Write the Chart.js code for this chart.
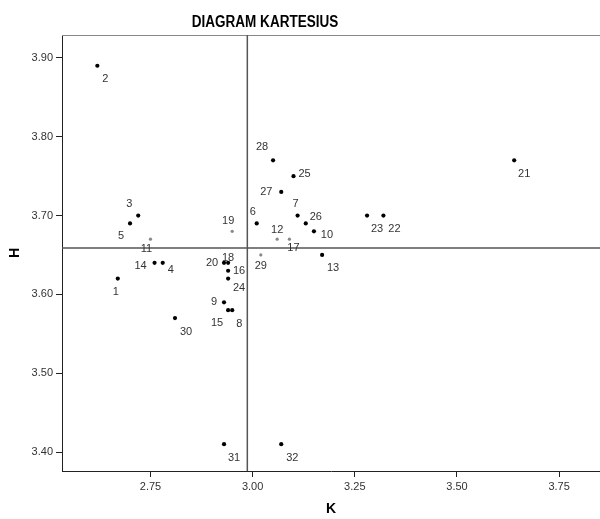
<!DOCTYPE html>
<html>
<head>
  <meta charset="UTF-8">
  <style>
    html, body { margin: 0; padding: 0; background: #fff; }
    #wrap { width: 600px; height: 519px; }
  </style>
</head>
<body>
  <div id="wrap"><canvas id="kartesius"></canvas></div>

  <script src="https://cdn.jsdelivr.net/npm/chart.js@4.4.0/dist/chart.umd.min.js"></script>
  <script>
    // respondent numbers and their K / H scores
    const ids     = [1, 2, 3, 4, 5, 6, 7, 8, 9, 10, 11, 12, 13, 14, 15, 16, 17, 18, 19, 20, 21, 22, 23, 24, 25, 26, 27, 28, 29, 30, 31, 32]
    const kValues = [2.67, 2.62, 2.72, 2.78, 2.70, 3.01, 3.11, 2.95, 2.93, 3.15, 2.75, 3.06, 3.17, 2.76, 2.94, 2.94, 3.09, 2.94, 2.95, 2.93, 3.64, 3.32, 3.28, 2.94, 3.10, 3.13, 3.07, 3.05, 3.02, 2.81, 2.93, 3.07]
    const hValues = [3.62, 3.89, 3.70, 3.64, 3.69, 3.69, 3.70, 3.58, 3.59, 3.68, 3.67, 3.67, 3.65, 3.64, 3.58, 3.63, 3.67, 3.64, 3.68, 3.64, 3.77, 3.70, 3.70, 3.62, 3.75, 3.69, 3.73, 3.77, 3.65, 3.57, 3.41, 3.41]
    const xTicks = [2.75, 3.00, 3.25, 3.50, 3.75]
    const yTicks = [3.40, 3.50, 3.60, 3.70, 3.80, 3.90]
    const meanK = 2.987
    const meanH = 3.659

    // points drawn lighter in the original
    const lightIds = [11, 12, 17, 19, 29]
    // where each number sits next to its dot (px)
    const labelOffsets = {
      1: [-2, 13], 2: [8, 13], 3: [-9, -12], 4: [8, 7], 5: [-9, 13], 6: [-4, -11], 7: [-2, -12], 8: [7, 14],
      9: [-10, 0], 10: [13, 4], 11: [-4, 10], 12: [0, -9], 13: [11, 13], 14: [-14, 3], 15: [-11, 13], 16: [11, 0],
      17: [4, 9], 18: [0, -5], 19: [-4, -10], 20: [-12, 0], 21: [10, 14], 22: [11, 13], 23: [10, 13], 24: [11, 9],
      25: [11, -2], 26: [10, -6], 27: [-15, 0], 28: [-11, -13], 29: [0, 11], 30: [11, 14], 31: [10, 14], 32: [11, 14]
    }

    const fontFamily = "'Liberation Sans', Arial, sans-serif"

    const quadrantPlugin = {
      id: "quadrant",
      beforeDatasetsDraw(chart) {
        const { ctx, chartArea: a, scales } = chart
        const x = scales.x.getPixelForValue(meanK)
        const y = scales.y.getPixelForValue(meanH)
        ctx.save()
        // top frame line
        ctx.strokeStyle = "#888"
        ctx.lineWidth = 1
        ctx.beginPath()
        ctx.moveTo(a.left, a.top + 0.5)
        ctx.lineTo(a.right, a.top + 0.5)
        ctx.stroke()
        // mean lines
        ctx.strokeStyle = "#555"
        ctx.lineWidth = 1.5
        ctx.beginPath()
        ctx.moveTo(x, a.top)
        ctx.lineTo(x, a.bottom)
        ctx.moveTo(a.left, y)
        ctx.lineTo(a.right, y)
        ctx.stroke()
        ctx.restore()
      },
      afterDatasetsDraw(chart) {
        const { ctx } = chart
        const meta = chart.getDatasetMeta(0)
        ctx.save()
        ctx.font = "11px " + fontFamily
        ctx.fillStyle = "#333"
        ctx.textAlign = "center"
        ctx.textBaseline = "middle"
        meta.data.forEach((pt, i) => {
          const off = labelOffsets[ids[i]]
          ctx.fillText(String(ids[i]), pt.x + off[0], pt.y + off[1])
        })
        // chart heading, squeezed like a narrow face
        ctx.font = "bold 16px " + fontFamily
        ctx.fillStyle = "#000"
        ctx.translate(265, 23)
        ctx.scale(0.845, 1)
        ctx.fillText("DIAGRAM KARTESIUS", 0, 0)
        ctx.restore()
      }
    }

    const points = kValues.map((k, i) => ({ x: k, y: hValues[i] }))

    const chart = new Chart(document.getElementById("kartesius"), {
      type: "scatter",
      data: {
        datasets: [{
          data: points,
          pointRadius: ids.map(id => lightIds.includes(id) ? 1.6 : 2.1),
          pointBackgroundColor: ids.map(id => lightIds.includes(id) ? "#888" : "#000"),
          pointBorderWidth: 0
        }]
      },
      options: {
        responsive: true,
        maintainAspectRatio: false,
        animation: false,
        layout: { autoPadding: false, padding: { top: 35, left: 0, right: 0, bottom: 0 } },
        plugins: {
          legend: { display: false },
          tooltip: { enabled: false }
        },
        scales: {
          x: {
            type: "linear",
            min: 2.5335,
            max: 3.85,
            afterFit(scale) {
              scale.height = 48
              scale.paddingLeft = 0
              scale.paddingRight = 0
            },
            afterBuildTicks(scale) { scale.ticks = xTicks.map(v => ({ value: v })) },
            ticks: {
              color: "#333",
              padding: 3,
              maxRotation: 0,
              font: { family: fontFamily, size: 11 },
              callback: v => v.toFixed(2)
            },
            grid: { drawOnChartArea: false, drawTicks: true, tickLength: 6, color: "#222" },
            border: { display: true, color: "#222", width: 1 },
            title: {
              display: true,
              text: "K",
              color: "#000",
              padding: { top: 0, bottom: 1 },
              font: { family: fontFamily, size: 14, weight: "bold" }
            }
          },
          y: {
            type: "linear",
            min: 3.376,
            max: 3.929,
            afterFit(scale) {
              scale.width = 62
              scale.paddingTop = 0
              scale.paddingBottom = 0
            },
            afterBuildTicks(scale) { scale.ticks = yTicks.map(v => ({ value: v })) },
            ticks: {
              color: "#333",
              padding: 3,
              font: { family: fontFamily, size: 11 },
              callback: v => v.toFixed(2)
            },
            grid: { drawOnChartArea: false, drawTicks: true, tickLength: 6, color: "#222" },
            border: { display: true, color: "#222", width: 1 },
            title: {
              display: true,
              text: "H",
              color: "#000",
              padding: { top: 7, bottom: 0 },
              font: { family: fontFamily, size: 14, weight: "bold" }
            }
          }
        }
      },
      plugins: [quadrantPlugin]
    })
  </script>
</body>
</html>
